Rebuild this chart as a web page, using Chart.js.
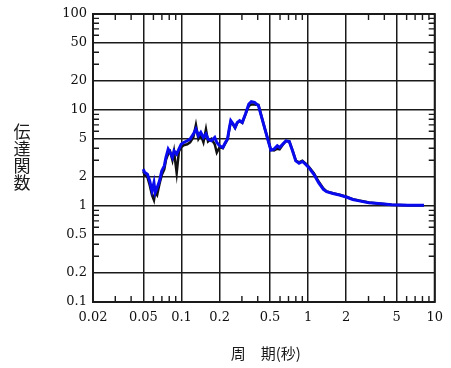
<!DOCTYPE html>
<html>
<head>
<meta charset="utf-8">
<script src="https://cdn.jsdelivr.net/npm/chart.js@4.4.1/dist/chart.umd.min.js"></script>
<style>
  html, body { margin: 0; padding: 0; background: #fff; }
</style>
</head>
<body>
<canvas id="chart" width="451" height="368"></canvas>
<script>
// periods (s) and transfer function values
const periods = [0.0498, 0.0513, 0.0538, 0.0561, 0.0585, 0.0606, 0.0620, 0.0642, 0.0670, 0.0698,
  0.0731, 0.0753, 0.0785, 0.0813, 0.0848, 0.0873, 0.0916, 0.0954, 0.0994, 0.104,
  0.111, 0.117, 0.124, 0.130, 0.136, 0.142, 0.149, 0.156, 0.162, 0.172,
  0.183, 0.190, 0.200, 0.212, 0.222, 0.231, 0.238, 0.245, 0.256, 0.265,
  0.276, 0.288, 0.302, 0.320, 0.340, 0.356, 0.377, 0.405, 0.430, 0.456,
  0.484, 0.508, 0.538, 0.571, 0.595, 0.631, 0.669, 0.710, 0.753, 0.799,
  0.848, 0.900, 0.953, 1.01, 1.11, 1.21, 1.32, 1.40, 1.57, 1.77,
  2.00, 2.25, 2.53, 3.02, 3.60, 4.56, 6.12, 8.22];

const blueValues = [2.42, 2.23, 2.14, 1.82, 1.44, 1.75, 1.38, 1.55, 1.82, 2.32,
  2.62, 3.20, 3.91, 3.61, 3.20, 3.76, 3.47, 3.91, 4.41, 4.59,
  4.78, 4.98, 5.61, 6.33, 5.39, 5.84, 5.18, 5.61, 4.98, 4.78,
  5.18, 4.59, 4.24, 4.07, 4.59, 4.98, 6.33, 7.74, 7.14, 6.59,
  7.43, 7.74, 7.43, 9.08, 11.55, 12.2, 12.0, 11.1, 8.38, 6.33,
  4.78, 3.82, 3.91, 4.24, 4.07, 4.41, 4.78, 4.70, 3.76, 2.95,
  2.79, 2.91, 2.73, 2.52, 2.14, 1.75, 1.49, 1.41, 1.35, 1.30,
  1.24, 1.17, 1.13, 1.08, 1.06, 1.03, 1.02, 1.02];

const blackValues = [2.3, 2.1, 2.0, 1.65, 1.3, 1.15, 1.4, 1.3, 1.7, 2.1,
  2.4, 3.0, 3.5, 3.7, 3.0, 3.7, 2.2, 3.7, 4.1, 4.3,
  4.4, 4.6, 5.2, 7.0, 5.0, 5.5, 4.6, 6.3, 4.7, 5.0,
  4.4, 3.6, 4.1, 4.0, 4.5, 4.95, 6.2, 7.6, 7.0, 6.5,
  7.35, 7.65, 7.35, 9.0, 11.0, 11.4, 11.4, 11.3, 8.4, 6.35,
  4.8, 3.85, 3.8, 3.95, 3.9, 4.35, 4.75, 4.7, 3.8, 2.98,
  2.85, 2.96, 2.78, 2.58, 2.2, 1.8, 1.52, 1.42, 1.36, 1.31,
  1.25, 1.18, 1.14, 1.09, 1.06, 1.03, 1.02, 1.02];

const xTicks = [0.02, 0.05, 0.1, 0.2, 0.5, 1, 2, 5, 10];
const yTicks = [0.1, 0.2, 0.5, 1, 2, 5, 10, 20, 50, 100];
const xMinor = [0.03, 0.04, 0.06, 0.07, 0.08, 0.09, 0.3, 0.4, 0.6, 0.7, 0.8, 0.9, 3, 4, 6, 7, 8, 9];
const yMinor = [0.3, 0.4, 0.6, 0.7, 0.8, 0.9, 3, 4, 6, 7, 8, 9, 30, 40, 60, 70, 80, 90];
const yTitle = ["伝", "達", "関", "数"];
const xTitle = "周\u3000期(秒)";

const tickFont = { family: "DejaVu Serif", size: 13 };

// frame, inner minor ticks and the two axis titles
const framePlugin = {
  id: "frame",
  beforeDatasetsDraw(chart) {
    const { ctx, chartArea: a, scales } = chart;
    ctx.save();
    ctx.strokeStyle = "#1a1a1a";
    ctx.lineWidth = 1.4;
    ctx.beginPath();
    xMinor.forEach(v => {
      const px = scales.x.getPixelForValue(v);
      ctx.moveTo(px, a.top); ctx.lineTo(px, a.top + 6);
      ctx.moveTo(px, a.bottom); ctx.lineTo(px, a.bottom - 6);
    });
    yMinor.forEach(v => {
      const py = scales.y.getPixelForValue(v);
      ctx.moveTo(a.left, py); ctx.lineTo(a.left + 6, py);
      ctx.moveTo(a.right, py); ctx.lineTo(a.right - 6, py);
    });
    ctx.stroke();
    ctx.lineWidth = 2;
    ctx.strokeRect(a.left, a.top, a.right - a.left, a.bottom - a.top);
    ctx.restore();
  },
  afterDraw(chart) {
    const { ctx, chartArea: a } = chart;
    ctx.save();
    ctx.fillStyle = "#1a1a1a";
    ctx.textAlign = "center";
    ctx.textBaseline = "middle";
    ctx.font = "17px 'Noto Sans CJK JP'";
    yTitle.forEach((ch, i) => ctx.fillText(ch, 22, 132 + i * 17));
    ctx.font = "15px 'Noto Sans CJK JP'";
    ctx.fillText(xTitle, (a.left + a.right) / 2 + 2, 353);
    ctx.restore();
  }
};

// Chart.js paints dataset 0 last, so the blue series goes first to sit on top
new Chart(document.getElementById("chart"), {
  type: "line",
  data: {
    datasets: [
      {
        data: periods.map((p, i) => ({ x: p, y: blueValues[i] })),
        borderColor: "#0a0aee",
        borderWidth: 3,
        pointRadius: 0,
        tension: 0
      },
      {
        data: periods.map((p, i) => ({ x: p, y: blackValues[i] })),
        borderColor: "#111",
        borderWidth: 2.5,
        pointRadius: 0,
        tension: 0
      }
    ]
  },
  options: {
    responsive: false,
    devicePixelRatio: 1,
    animation: false,
    layout: { padding: { top: 14, right: 8, left: 0, bottom: 0 } },
    plugins: { legend: { display: false }, tooltip: { enabled: false } },
    scales: {
      x: {
        type: "logarithmic",
        min: 0.02,
        max: 10,
        afterBuildTicks: s => { s.ticks = xTicks.map(v => ({ value: v })); },
        afterFit: s => { s.height = 66; },
        grid: { color: "#1a1a1a", lineWidth: 1.5, drawTicks: false },
        border: { display: false },
        ticks: {
          autoSkip: false,
          maxRotation: 0,
          padding: 8,
          color: "#111",
          font: tickFont,
          callback: v => String(v)
        }
      },
      y: {
        type: "logarithmic",
        min: 0.1,
        max: 100,
        afterBuildTicks: s => { s.ticks = yTicks.map(v => ({ value: v })); },
        afterFit: s => { s.width = 93; },
        grid: { color: "#1a1a1a", lineWidth: 1.5, drawTicks: false },
        border: { display: false },
        ticks: {
          autoSkip: false,
          padding: 6,
          color: "#111",
          font: tickFont,
          callback: v => String(v)
        }
      }
    }
  },
  plugins: [framePlugin]
});
</script>
</body>
</html>
